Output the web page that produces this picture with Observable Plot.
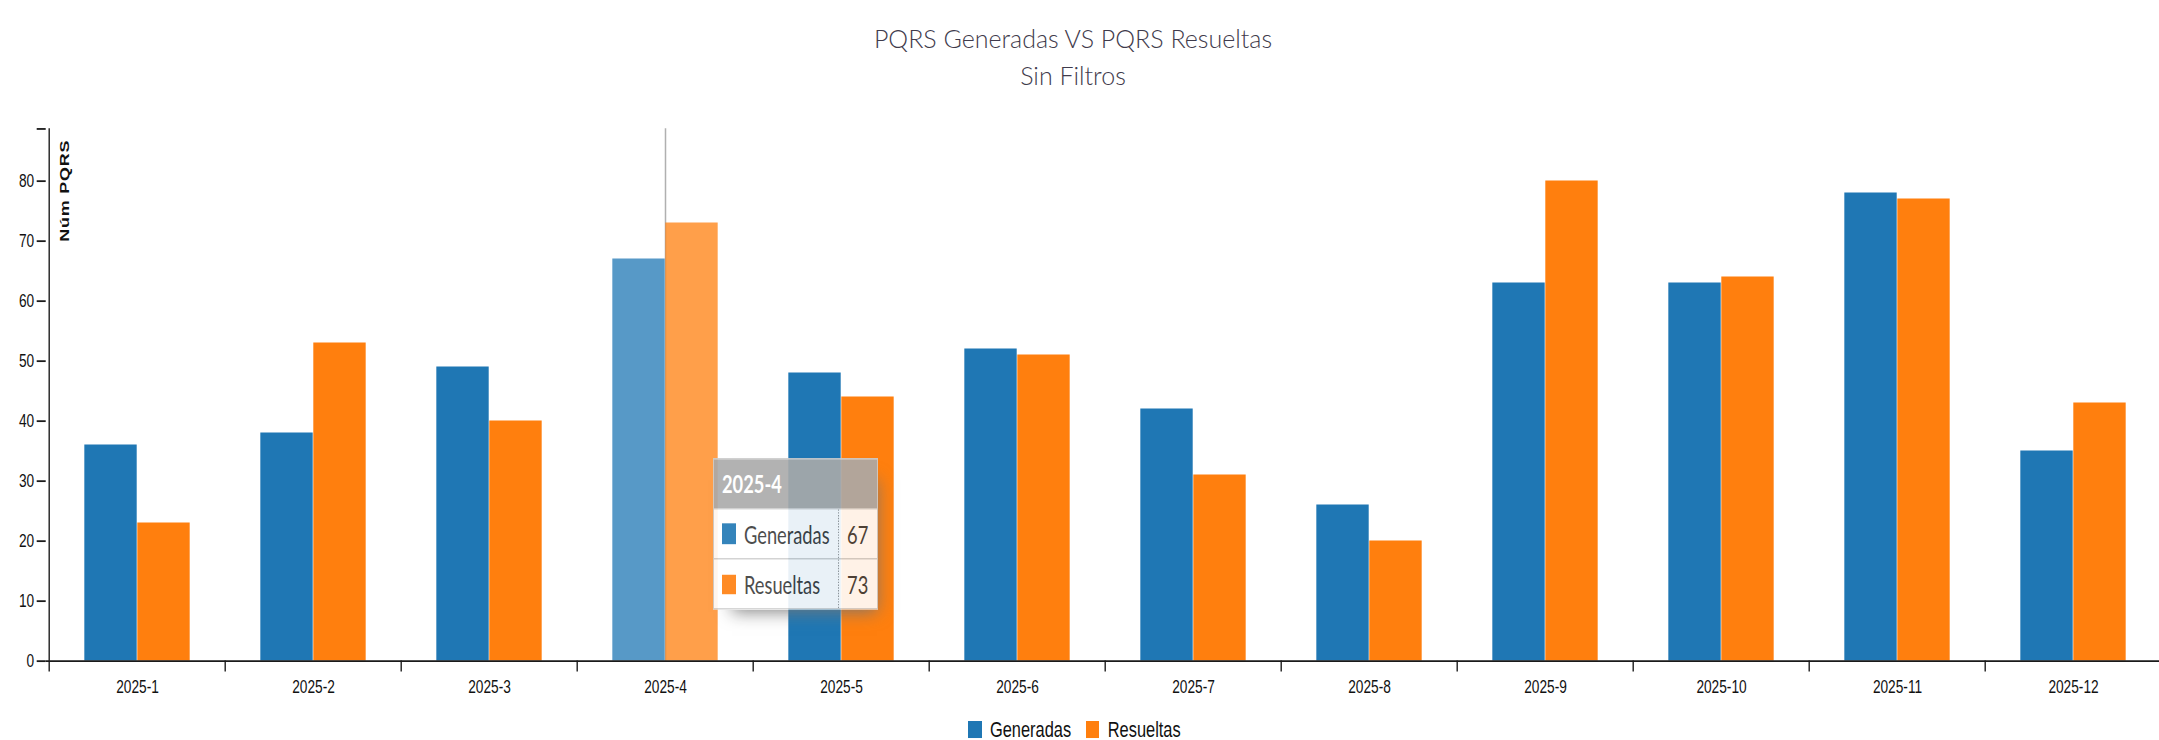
<!DOCTYPE html>
<html>
<head>
<meta charset="utf-8">
<script src="https://cdn.jsdelivr.net/npm/d3@7"></script>
<script src="https://cdn.jsdelivr.net/npm/@observablehq/plot@0.6"></script>
<style>
  html, body { margin: 0; padding: 0; overflow: hidden; background: #fff; width: 2159px; height: 740px; }
  #title { position: absolute; top: 20.3px; left: 0; width: 2146px; text-align: center;
           font-family: Lato, "Open Sans", sans-serif; font-weight: 300; font-size: 25px; line-height: 36.7px; color: #3f3b4c; }
  #chart { position: absolute; left: 0; top: 96px; }
  #legend { position: absolute; left: 968.3px; top: 720.7px; transform: scaleY(1.31); transform-origin: 0 0;
            display: flex; align-items: center; height: 12.7px;
            font-family: "Liberation Sans", Arial, sans-serif; font-size: 16.4px; line-height: 12.7px; color: #111; }
  #legend .sw { width: 13.4px; height: 12.7px; display: inline-block; }
  #tip { position: absolute; left: 713px; top: 458px; width: 165px; height: 152px; opacity: 0.9;
         box-shadow: 9px 12px 16px -10px rgb(119,119,119); }
  #tipInner { transform: scaleY(1.39); transform-origin: 0 0; width: 165px; height: 109.35px;
              border: 1px solid #ccc; box-sizing: border-box; font-family: Lato, "Open Sans", sans-serif;
              font-size: 18.3px; color: #3a3a3a; background: #fff; }
  #tipInner .hd { height: 35px; line-height: 35px; background: #aaa; color: #fff; font-weight: bold; padding-left: 8px; }
  #tipInner .row { height: 36.2px; display: flex; border-top: 1px solid #ccc; box-sizing: border-box; }
  #tipInner .name { width: 124px; box-sizing: border-box; padding-left: 8px; display: flex; align-items: center; }
  #tipInner .name .sw { width: 13.7px; height: 14.4px; display: inline-block; margin-right: 8.3px; }
  #tipInner .val { flex: 1; border-left: 1px dotted #999; text-align: right; padding-right: 8.7px; display: flex;
                   align-items: center; justify-content: flex-end; }
</style>
</head>
<body>
<div id="title"></div>
<div id="chart"></div>
<div id="legend"></div>
<div id="tip"></div>
<script>
// ---- data ----
const titleLines = ["PQRS Generadas VS PQRS Resueltas", "Sin Filtros"];
const months = ["2025-1","2025-2","2025-3","2025-4","2025-5","2025-6","2025-7","2025-8","2025-9","2025-10","2025-11","2025-12"];
const generadas = [36, 38, 49, 67, 48, 52, 42, 26, 63, 63, 78, 35];
const resueltas = [23, 53, 40, 73, 44, 51, 31, 20, 80, 64, 77, 43];
const seriesNames = ["Generadas", "Resueltas"];
const seriesColors = ["#1f77b4", "#ff7f0e"];
const yTicks = [0, 10, 20, 30, 40, 50, 60, 70, 80];
const yMax = 88.7;
const yLabel = "Núm PQRS";
const focusMonth = "2025-4";

// ---- layout ----
const W = 2172, ML = 45.7, MR = 7.1;
const step = (W - ML - MR) / months.length;
const barW = step * 0.3;
const outer = step * 0.2;
const SY = 1.31;                       // vertical stretch of the picture
const svgTopF = 96, svgBottomF = 712, plotTopF = 128.3, zeroF = 660.5;
const HF = svgBottomF - svgTopF;
const H = HF / SY;
const MT = (plotTopF - svgTopF) / SY;
const MB = (svgBottomF - zeroF) / SY;
const axisColor = "#1a1a1a";

document.getElementById("title").innerHTML = titleLines.join("<br>");

const rows = months.flatMap((m, i) => [
  {month: m, series: seriesNames[0], value: generadas[i]},
  {month: m, series: seriesNames[1], value: resueltas[i]}
]);

const svg = Plot.plot({
  width: W, height: H,
  marginLeft: ML, marginRight: MR, marginTop: MT, marginBottom: MB,
  style: {fontFamily: "'Liberation Sans', Arial, sans-serif", fontSize: "13.7px", color: "#111", background: "transparent", overflow: "visible"},
  x: {domain: months, padding: 0, axis: null, label: null},
  y: {domain: [0, yMax], axis: null, label: null},
  marks: [
    Plot.ruleX([focusMonth], {y1: 0, y2: yMax, stroke: "#b0b0b0", strokeWidth: 1.5}),
    Plot.barY(rows.filter(d => d.series === seriesNames[0]), {
      x: "month", y: "value", fill: seriesColors[0],
      fillOpacity: d => d.month === focusMonth ? 0.75 : 1,
      insetLeft: outer, insetRight: step - outer - barW
    }),
    Plot.barY(rows.filter(d => d.series === seriesNames[1]), {
      x: "month", y: "value", fill: seriesColors[1],
      fillOpacity: d => d.month === focusMonth ? 0.75 : 1,
      insetLeft: outer + barW, insetRight: outer
    }),
    // x axis: baseline, boundary ticks, centered labels
    Plot.ruleY([0], {stroke: axisColor, strokeWidth: 1.37}),
    Plot.axisX({ticks: months, tickSize: 8.4, text: null, label: null, dx: -step / 2, stroke: axisColor, strokeWidth: 1.37}),
    Plot.axisX({ticks: months, tickSize: 0, tickPadding: 14.5, label: null, fill: "#111"}),
    // y axis: line, ticks, outer top tick
    Plot.ruleX([months[0]], {dx: -step / 2, y1: 0, y2: yMax, stroke: axisColor, strokeWidth: 1.37}),
    Plot.axisY({ticks: yTicks, tickSize: 9, tickPadding: 3, label: null, stroke: axisColor, strokeWidth: 1.37, fill: "#111", tickFormat: d => String(d)}),
    Plot.axisY({ticks: [yMax], tickSize: 9, text: null, label: null, stroke: axisColor, strokeWidth: 1.37}),
    Plot.text([yLabel], {frameAnchor: "top-left", rotate: -90, textAnchor: "end", dx: 12.8, dy: 8.2,
      fontWeight: "bold", fontSize: 13.7, fill: "#111"})
  ]
});
svg.setAttribute("preserveAspectRatio", "none");
svg.style.width = W + "px";
svg.style.height = HF + "px";
svg.style.maxWidth = "none";
svg.querySelectorAll("text").forEach(t => { if (t.textContent === yLabel) t.style.letterSpacing = "0.6px"; });
document.getElementById("chart").appendChild(svg);

// legend
const legend = document.getElementById("legend");
seriesNames.forEach((name, i) => {
  const sw = document.createElement("span");
  sw.className = "sw"; sw.style.background = seriesColors[i];
  sw.style.marginRight = "8.3px";
  const tx = document.createElement("span");
  tx.textContent = name;
  if (i < seriesNames.length - 1) tx.style.marginRight = "15px";
  legend.appendChild(sw); legend.appendChild(tx);
});

// tooltip for the focused month
const fi = months.indexOf(focusMonth);
const tipVals = [generadas[fi], resueltas[fi]];
let html = `<div id="tipInner"><div class="hd">${focusMonth}</div>`;
seriesNames.forEach((name, i) => {
  html += `<div class="row"><div class="name"><span class="sw" style="background:${seriesColors[i]}"></span>${name}</div><div class="val">${tipVals[i]}</div></div>`;
});
html += `</div>`;
document.getElementById("tip").innerHTML = html;
</script>
</body>
</html>
